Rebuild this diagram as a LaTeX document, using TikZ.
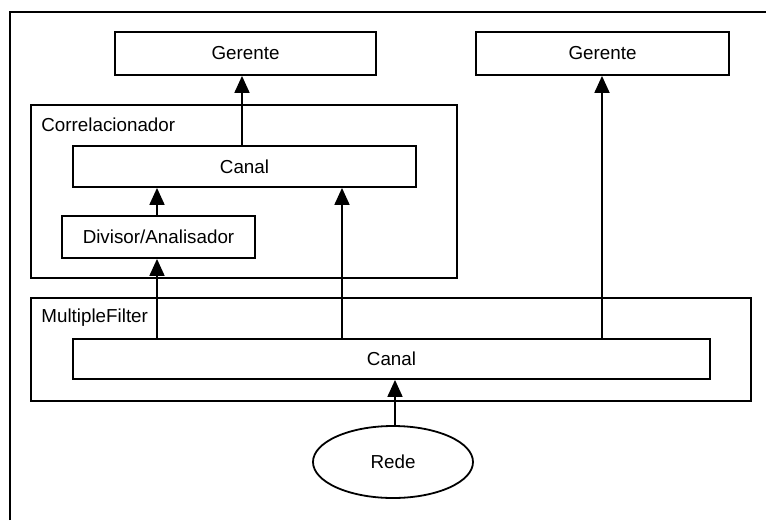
\documentclass[tikz,border=0pt]{standalone}
\usepackage{fontspec}
\setmainfont{Liberation Sans}
\usetikzlibrary{arrows.meta,shapes.geometric}
\begin{document}
\begin{tikzpicture}[x=0.5pt,y=-0.5pt,
  every node/.style={font=\fontsize{9.4}{11}\selectfont},
  box/.style={draw, line width=0.9pt, rectangle, inner sep=0pt},
  group/.style={draw, line width=0.9pt, rectangle, inner sep=0pt},
  title/.style={anchor=west, inner sep=0pt},
  arr/.style={line width=0.9pt, -{Triangle[length=8.5pt,width=7.5pt]}}]
  \useasboundingbox (0,0) rectangle (766,520);

  % outer frame (top and left edges)
  \draw[line width=0.9pt] (10,520) -- (10,12) -- (766,12);

  % managers
  \node[box, minimum width=130.5pt, minimum height=21.5pt] (gerA) at (245.5,53.5) {Gerente};
  \node[box, minimum width=126.5pt, minimum height=21.5pt] (gerB) at (602.5,53.5) {Gerente};

  % correlator group
  \node[group, minimum width=213pt, minimum height=86.5pt] (corr) at (244,191.5) {};
  \node[title] (corrLbl) at (41,125) {Correlacionador};
  \node[box, minimum width=171.5pt, minimum height=20.5pt] (canalA) at (244.5,166.5) {Canal};
  \node[box, minimum width=96.5pt, minimum height=21pt] (divisor) at (158.5,237) {Divisor/Analisador};

  % multiple filter group
  \node[group, minimum width=360pt, minimum height=51.5pt] (mf) at (391,349.5) {};
  \node[title] (mfLbl) at (41,318) {MultipleFilter};
  \node[box, minimum width=318.5pt, minimum height=20pt] (canalB) at (391.5,359) {Canal};

  % network
  \node[draw, line width=0.9pt, ellipse, inner sep=0pt, minimum width=80pt, minimum height=36pt] (rede) at (393,462) {Rede};

  % connector columns
  \coordinate (xA) at (242,0);
  \coordinate (xD) at (157,0);
  \coordinate (xC) at (342,0);
  \coordinate (xG) at (602,0);
  \coordinate (xR) at (395,0);

  \draw[arr] (canalA.north -| xA) -- (gerA.south -| xA);
  \draw[arr] (divisor.north -| xD) -- (canalA.south -| xD);
  \draw[arr] (canalB.north -| xD) -- (divisor.south -| xD);
  \draw[arr] (canalB.north -| xC) -- (canalA.south -| xC);
  \draw[arr] (canalB.north -| xG) -- (gerB.south -| xG);
  \draw[arr] (rede.north -| xR) -- (canalB.south -| xR);
\end{tikzpicture}
\end{document}
